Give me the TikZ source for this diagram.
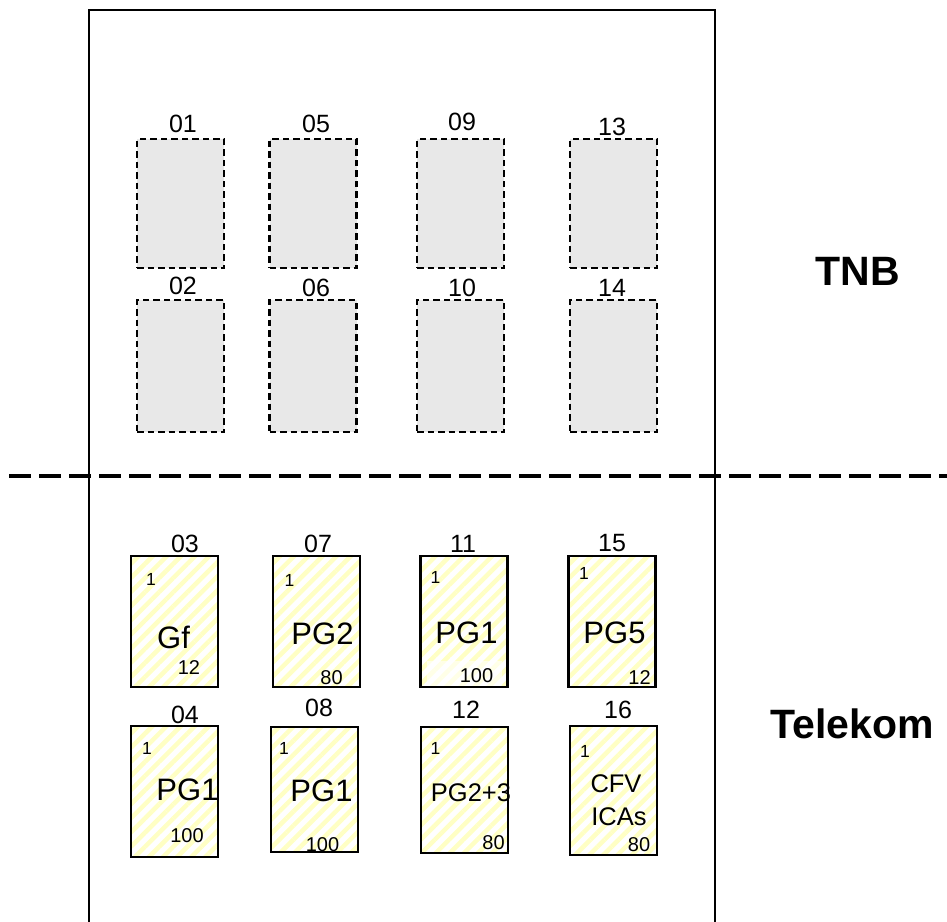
\documentclass[tikz,border=0pt]{standalone}
\usepackage{fontspec}
\setmainfont{Liberation Sans}
\usetikzlibrary{patterns.meta}
\definecolor{boxgray}{RGB}{232,232,232}
\definecolor{stripe}{RGB}{255,255,196}
\begin{document}
\begin{tikzpicture}[x=1pt,y=-1pt,
  tnbbox/.style={draw=black, line width=2.6pt, dash pattern=on 6.5pt off 4pt, fill=boxgray, inner sep=0pt, minimum width=87pt},
  telbox/.style={draw=black, line width=2.4pt, pattern={Lines[angle=45,distance=10pt,line width=4.5pt]}, pattern color=stripe, inner sep=0pt, minimum width=87pt},
  lbl/.style={font=\fontsize{25}{27}\selectfont, inner sep=0pt},
  one/.style={font=\fontsize{17.5}{19}\selectfont, inner sep=0pt},
  num/.style={font=\fontsize{20}{22}\selectfont, inner sep=0pt},
  big/.style={font=\fontsize{31}{33}\selectfont, inner sep=0pt},
  mid/.style={font=\fontsize{25.5}{27}\selectfont, inner sep=0pt},
  side/.style={font=\fontsize{41}{43}\selectfont\bfseries, inner sep=0pt}]
\useasboundingbox (0,0) rectangle (947,921);
% frame
\coordinate (fbl) at (89,922);
\coordinate (ftl) at (89,10);
\coordinate (ftr) at (715,10);
\coordinate (fbr) at (715,922);
\draw[line width=2.3pt] (fbl) -- (ftl) -- (ftr) -- (fbr);
\coordinate (dl) at (9,476);
\coordinate (dr) at (947,476);
\draw[line width=3.3pt, dash pattern=on 22pt off 8pt] (dl) -- (dr);
% TNB boxes
\node[tnbbox, minimum height=129pt] (b01) at (180.5,203.5) {};
\node[tnbbox, minimum height=129pt] (b05) at (313,203.5) {};
\node[tnbbox, minimum height=129pt] (b09) at (460.5,203.5) {};
\node[tnbbox, minimum height=129pt] (b13) at (613.5,203.5) {};
\node[tnbbox, minimum height=132pt] (b02) at (180.5,366) {};
\node[tnbbox, minimum height=132pt] (b06) at (313,366) {};
\node[tnbbox, minimum height=132pt] (b10) at (460.5,366) {};
\node[tnbbox, minimum height=132pt] (b14) at (613.5,366) {};
\node[lbl] (l01) at (183,123.5) {01};
\node[lbl] (l05) at (316,124) {05};
\node[lbl] (l09) at (462,122) {09};
\node[lbl] (l13) at (612,127) {13};
\node[lbl] (l02) at (183,286) {02};
\node[lbl] (l06) at (316,288) {06};
\node[lbl] (l10) at (462,288) {10};
\node[lbl] (l14) at (612,288) {14};
% Telekom boxes
\node[telbox, minimum height=131pt] (b03) at (174.5,621.5) {};
\node[telbox, minimum height=131pt] (b07) at (316.5,621.5) {};
\node[telbox, minimum height=131pt] (b11) at (464,621.5) {};
\node[telbox, minimum height=131pt] (b15) at (612,621.5) {};
\node[telbox, minimum height=131pt] (b04) at (174.5,791.5) {};
\node[telbox, minimum height=125pt] (b08) at (314.5,789.5) {};
\node[telbox, minimum height=126pt] (b12) at (464.5,790) {};
\node[telbox, minimum height=129pt] (b16) at (613.5,790.5) {};
\fill[white, opacity=0.6] (427,661) rectangle (502,686);
\node[lbl] (l03) at (185,543.5) {03};
\node[lbl] (l07) at (318,543.5) {07};
\node[lbl] (l11) at (463,543.5) {11};
\node[lbl] (l15) at (612,543.5) {15};
\node[lbl] (l04) at (185,715) {04};
\node[lbl] (l08) at (319,707.5) {08};
\node[lbl] (l12) at (466,710) {12};
\node[lbl] (l16) at (618,710) {16};
% contents
\node[one] (o03) at (151,579.5) {1};
\node[big] (t03) at (173.5,637) {Gf};
\node[num] (n03) at (189,667.5) {12};
\node[one] (o07) at (289.5,580) {1};
\node[big] (t07) at (322.5,633.5) {PG2};
\node[num] (n07) at (331.5,677.5) {80};
\node[one] (o11) at (435.5,577) {1};
\node[big] (t11) at (466.5,633) {PG1};
\node[num] (n11) at (476.5,676) {100};
\node[one] (o15) at (584,573.5) {1};
\node[big] (t15) at (614.5,633) {PG5};
\node[num] (n15) at (639.5,677.5) {12};
\node[one] (o04) at (147,748.5) {1};
\node[big] (t04) at (187.5,790) {PG1};
\node[num] (n04) at (187,836) {100};
\node[one] (o08) at (284,748.5) {1};
\node[big] (t08) at (321.5,791) {PG1};
\node[num] (n08) at (322.5,845) {100};
\node[one] (o12) at (435.5,748.5) {1};
\node[mid] (t12) at (471,793) {PG2+3};
\node[num] (n12) at (493.5,843) {80};
\node[one] (o16) at (585,751.5) {1};
\node[mid] (t16a) at (616,783.5) {CFV};
\node[mid] (t16b) at (619,816.5) {ICAs};
\node[num] (n16) at (639,844.5) {80};
% side labels
\node[side] (tnb) at (857.5,271.5) {TNB};
\node[side] (tel) at (852,724) {Telekom};
\end{tikzpicture}
\end{document}
